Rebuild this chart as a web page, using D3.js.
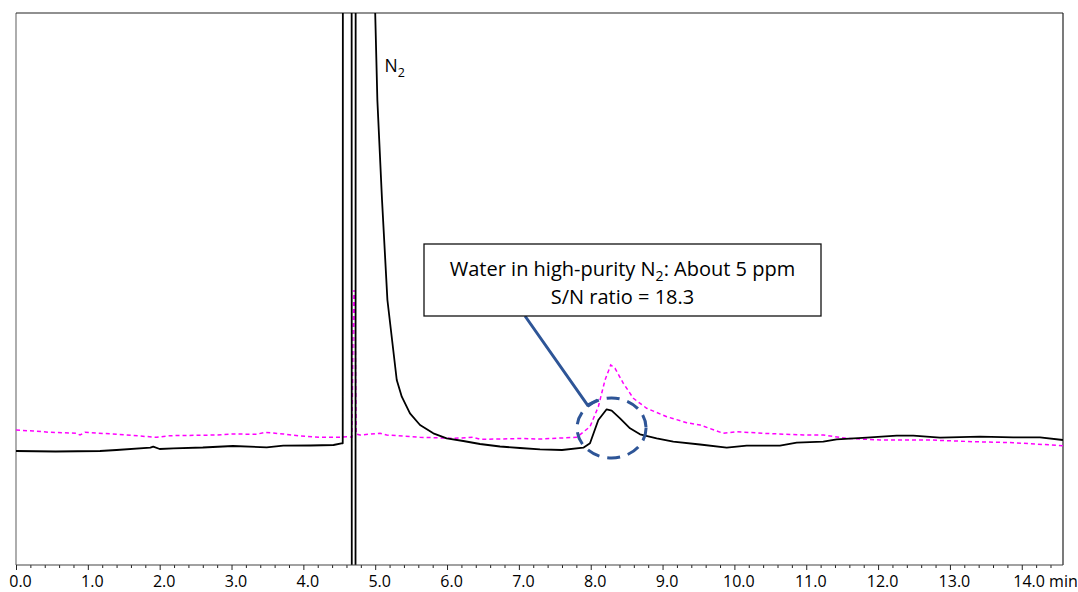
<!DOCTYPE html>
<html>
<head>
<meta charset="utf-8">
<script src="https://cdn.jsdelivr.net/npm/d3@7"></script>
<style>
  html, body { margin: 0; padding: 0; background: #fff; }
  svg { display: block; }
  text { font-family: "Open Sans", "Noto Sans", sans-serif; }
</style>
</head>
<body>
<svg id="chart" width="1078" height="592"></svg>
<script>
// ---- data ----
const majorTicks = [0,1,2,3,4,5,6,7,8,9,10,11,12,13,14];
const tickLabels = ["0.0","1.0","2.0","3.0","4.0","5.0","6.0","7.0","8.0","9.0","10.0","11.0","12.0","13.0","14.0"];
const axisUnit = "min";

// Sample chromatogram (black, solid)
const timeSample = [0.00,0.55,1.17,1.40,1.87,1.91,2.00,2.19,2.60,3.02,3.49,3.72,4.10,4.42,4.53,4.548,4.55,4.672,4.674,4.726,4.728,4.95,5.00,5.03,5.095,5.17,5.30,5.37,5.484,5.624,5.809,5.995,6.226,6.459,6.737,7.015,7.294,7.60,7.897,7.99,8.106,8.222,8.292,8.408,8.547,8.686,8.918,9.149,9.521,9.893,10.171,10.635,10.867,11.237,11.424,11.841,12.259,12.49,12.862,13.419,13.882,14.254,14.574];
const signalSample = [22.8,22.7,22.8,23.0,23.46,23.66,23.2,23.34,23.5,23.8,23.54,23.86,23.9,24.0,24.34,24.34,120,120,-5,-5,120,120,110.4,93,73,53,37,33.66,30.34,28,26.34,25.34,24.8,24.2,23.7,23.4,23.14,23.0,23.46,24.34,29,31.14,30.86,29.34,27.34,26.14,25.34,24.66,24.1,23.46,23.86,23.86,24.46,24.66,25.14,25.46,25.86,25.86,25.46,25.66,25.54,25.54,25.0];

// Comparison chromatogram (magenta, dashed)
const timeRef = [0.00,0.24,0.473,0.845,0.891,0.960,1.402,1.959,2.144,2.794,3.025,3.35,3.466,3.721,3.953,4.232,4.51,4.603,4.677,4.69,4.705,4.72,4.735,4.788,5.067,5.16,5.624,6.087,6.366,6.459,6.737,7.015,7.294,7.805,7.99,8.106,8.199,8.278,8.338,8.454,8.593,8.779,9.058,9.336,9.521,9.846,10.032,10.402,10.959,11.237,11.563,12.027,12.723,13.325,13.882,14.574];
const signalRef = [27.0,26.8,26.54,26.34,26.0,26.54,26.14,25.54,25.86,26.0,26.2,26.14,26.54,26.2,25.8,25.54,25.54,25.66,25.6,45,55,50,26.2,26.0,26.34,26.0,25.54,25.34,25.54,25.14,25.2,25.3,25.2,25.54,27.66,31.66,37.0,40.0,39.34,36.34,33.34,31.34,29.66,28.46,28.0,26.34,26.66,26.34,26.0,26.0,25.34,25.0,25.0,24.66,24.46,23.86];

const peakLabel = {time: 5.13, value: 98.6, main: "N", sub: "2"};
const noteLines = [
  [{t: "Water in high-purity N"}, {t: "2", sub: true}, {t: ": About 5 ppm"}],
  [{t: "S/N ratio = 18.3"}]
];
const noteTarget = {time: 8.29, value: 27.4};  // circled water peak

// ---- layout ----
const svg = d3.select("#chart");
const pLeft = 16, pRight = 1063, pTop = 13, pBottom = 565;

const x = d3.scaleLinear().domain([0, 14.574]).range([pLeft, pRight]);
const y = d3.scaleLinear().domain([0, 110.4]).range([pBottom, pTop]);

svg.append("defs").append("clipPath").attr("id", "plotclip")
  .append("rect").attr("x", pLeft).attr("y", pTop).attr("width", pRight - pLeft).attr("height", pBottom - pTop);

// frame
svg.append("line").attr("x1", pLeft).attr("x2", pLeft).attr("y1", pTop).attr("y2", pBottom)
  .attr("stroke", "#777").attr("stroke-width", 1.2);
svg.append("line").attr("x1", pLeft).attr("x2", pRight).attr("y1", pTop).attr("y2", pTop)
  .attr("stroke", "#222").attr("stroke-width", 1.2);
svg.append("line").attr("x1", pRight).attr("x2", pRight).attr("y1", pTop).attr("y2", pBottom)
  .attr("stroke", "#222").attr("stroke-width", 1.2);

// traces
const g = svg.append("g").attr("clip-path", "url(#plotclip)");
const lineGen = d3.line().x(d => x(d[0])).y(d => y(d[1]));

g.append("path")
  .datum(timeRef.map((t, i) => [t, signalRef[i]]))
  .attr("d", lineGen)
  .attr("fill", "none")
  .attr("stroke", "#ff00ff")
  .attr("stroke-width", 1.5)
  .attr("stroke-dasharray", "4,3");

g.append("path")
  .datum(timeSample.map((t, i) => [t, signalSample[i]]))
  .attr("d", lineGen)
  .attr("fill", "none")
  .attr("stroke", "#000")
  .attr("stroke-width", 1.8)
  .attr("stroke-linejoin", "round");

// x axis
const minorTicks = d3.range(0, 14.55, 0.2).filter(v => Math.abs(v - Math.round(v)) > 0.01);
const minorAxis = d3.axisBottom(x).tickValues(minorTicks).tickSize(3).tickFormat("");
svg.append("g").attr("transform", `translate(0,${pBottom})`).call(minorAxis)
  .call(s => s.select(".domain").remove())
  .call(s => s.selectAll("line").attr("stroke", "#222"));

const majorAxis = d3.axisBottom(x).tickValues(majorTicks).tickSize(5).tickSizeOuter(0)
  .tickFormat((d, i) => tickLabels[i]);
const ax = svg.append("g").attr("transform", `translate(0,${pBottom})`).call(majorAxis);
ax.select(".domain").attr("stroke", "#444").attr("stroke-width", 1.2)
  .attr("d", `M${pLeft},0H${pRight}`);
ax.selectAll("line").attr("stroke", "#222");
ax.selectAll("text")
  .attr("font-size", 16)
  .attr("fill", "#000")
  .attr("dy", null)
  .attr("y", 22)
  .attr("dx", 4)
  .style("font-family", "'Open Sans', sans-serif");
ax.selectAll(".tick").filter(d => d === 14).select("text")
  .text(tickLabels[14] + " " + axisUnit)
  .attr("text-anchor", "start")
  .attr("dx", -9);

// N2 label
const n2 = svg.append("text")
  .attr("x", x(peakLabel.time))
  .attr("y", y(peakLabel.value))
  .attr("font-size", 17.5)
  .attr("fill", "#000");
n2.append("tspan").text(peakLabel.main);
n2.append("tspan").text(peakLabel.sub).attr("font-size", 12.5).attr("dy", 5);

// annotation
const noteColor = "#2e5597";
const boxX = 424, boxY = 244, boxW = 397, boxH = 72;
const cx = x(noteTarget.time), cy = y(noteTarget.value);
svg.append("ellipse")
  .attr("cx", cx).attr("cy", cy).attr("rx", 34.5).attr("ry", 30)
  .attr("fill", "none").attr("stroke", noteColor).attr("stroke-width", 3)
  .attr("stroke-dasharray", "13,8");
svg.append("polyline")
  .attr("points", `${boxX + 101},${boxY + boxH} ${cx - 24},${cy - 23} ${cx - 14},${cy - 28}`)
  .attr("fill", "none").attr("stroke", noteColor).attr("stroke-width", 3);
svg.append("rect")
  .attr("x", boxX).attr("y", boxY).attr("width", boxW).attr("height", boxH)
  .attr("fill", "#fff").attr("stroke", "#111").attr("stroke-width", 1.3);
noteLines.forEach((parts, i) => {
  const t = svg.append("text")
    .attr("x", boxX + boxW / 2)
    .attr("y", boxY + 32 + i * 28)
    .attr("text-anchor", "middle")
    .attr("font-size", 20)
    .attr("fill", "#000");
  parts.forEach((p, j) => {
    if (p.sub) {
      t.append("tspan").text(p.t).attr("font-size", 14).attr("dy", 5);
    } else {
      const ts = t.append("tspan").text(p.t);
      if (j > 0 && parts[j - 1].sub) ts.attr("dy", -5);
    }
  });
});
</script>
</body>
</html>
